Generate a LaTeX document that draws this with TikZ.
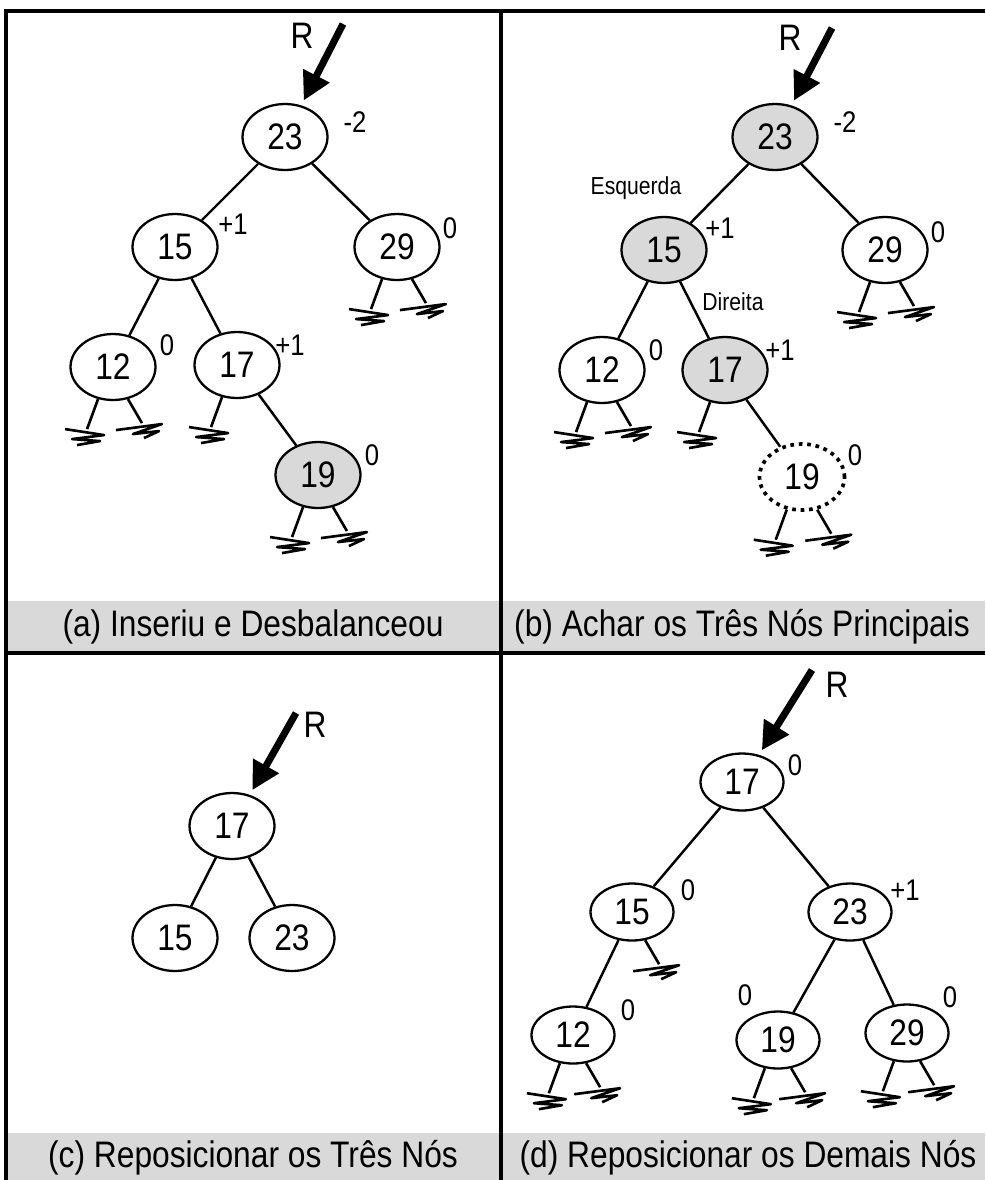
\documentclass[tikz,border=0pt]{standalone}
\usepackage{fontspec}
\usepackage{tikz}
\usepackage{xcolor}
\setmainfont{Liberation Sans}[FakeStretch=0.86]
\usetikzlibrary{shapes.geometric, arrows.meta}
\definecolor{cShade}{RGB}{217,217,217}
\tikzset{
	tnode/.style    ={ellipse, draw=black, line width=1.3pt, minimum width=1.70cm, minimum height=1.32cm, inner sep=0pt, fill=white, font=\fontsize{21}{23}\selectfont},
	tsmall/.style   ={tnode, minimum width=1.66cm, minimum height=1.14cm},
	hl/.style       ={fill=cShade},
	ins/.style      ={draw=black, line width=2.1pt, dash pattern=on 2.1pt off 2.7pt},
	bal/.style      ={inner sep=0pt, font=\fontsize{17}{19}\selectfont},
	side/.style     ={inner sep=0pt, font=\fontsize{14}{16}\selectfont},
	edge/.style     ={line width=1.4pt},
	nil/.style      ={line width=1.5pt, line join=round},
	rootarrow/.style={-{Triangle[length=0.56cm, width=0.56cm]}, line width=4pt, shorten >=3pt},
	rlabel/.style   ={inner sep=0pt, font=\fontsize{21}{23}\selectfont},
	capbar/.style   ={fill=cShade, draw=none},
	caption/.style  ={inner sep=0pt, font=\fontsize{21}{23}\selectfont},
	frame/.style    ={line width=1.8pt},
}
% null pointers under a node
\newcommand{\nilL}[1]{\draw[nil] (#1.245) -- ++(-11,30) +(-22,0) -- +(17,6) -- +(-15,10) -- +(13,12) -- +(-10,16);}
\newcommand{\nilR}[1]{\draw[nil] (#1.295) -- ++(14,24) +(-26,7) -- +(20,1) -- +(-9,11) -- +(17,8) -- +(2,15);}

\begin{document}
\begin{tikzpicture}[x=0.02cm, y=-0.02cm]
	\useasboundingbox (0,0) rectangle (985,1180);
	% caption bars and frame
	\fill[capbar] (6,601) rectangle (985,653);
	\fill[capbar] (6,1133) rectangle (985,1180);
	\draw[frame] (985,11) -- (6,11) -- (6,1180);
	\draw[frame] (501,11) -- (501,1180);
	\draw[frame] (6,653) -- (985,653);
	\node[caption] (capA) at (253,627) {(a) Inseriu e Desbalanceou};
	\node[caption] (capB) at (742,627) {(b) Achar os Três Nós Principais};
	\node[caption] (capC) at (253,1158) {(c) Reposicionar os Três Nós};
	\node[caption] (capD) at (748,1158) {(d) Reposicionar os Demais Nós};

	% (a)
	\node[tnode] (a23) at (285,137) {23};
	\node[tnode] (a15) at (175,247) {15};
	\node[tnode] (a29) at (397,247) {29};
	\node[tnode] (a12) at (113,367) {12};
	\node[tnode] (a17) at (237,365) {17};
	\node[tnode, hl] (a19) at (318,475) {19};
	\draw[edge] (a23) -- (a15);
	\draw[edge] (a23) -- (a29);
	\draw[edge] (a15) -- (a12);
	\draw[edge] (a15) -- (a17);
	\draw[edge] (a17) -- (a19);
	\nilL{a29} \nilR{a29}
	\nilL{a12} \nilR{a12}
	\nilL{a17}
	\nilL{a19} \nilR{a19}
	\node[bal] (la23) at (355,122) {-2};
	\node[bal] (la15) at (233,224) {+1};
	\node[bal] (la29) at (450,228) {0};
	\node[bal] (la12) at (167,345) {0};
	\node[bal] (la17) at (290,345) {+1};
	\node[bal] (la19) at (372,455) {0};
	\coordinate (ra) at (343,24);
	\draw[rootarrow] (ra) -- (a23);
	\node[rlabel] (Ra) at (302,36) {R};

	% (b)
	\node[tnode, hl] (b23) at (775,137) {23};
	\node[tnode, hl] (b15) at (664,250) {15};
	\node[tnode] (b29) at (885,250) {29};
	\node[tnode] (b12) at (602,370) {12};
	\node[tnode, hl] (b17) at (725,370) {17};
	\node[tnode, ins] (b19) at (802,477) {19};
	\draw[edge] (b23) -- (b15);
	\draw[edge] (b23) -- (b29);
	\draw[edge] (b15) -- (b12);
	\draw[edge] (b15) -- (b17);
	\draw[edge] (b17) -- (b19);
	\nilL{b29} \nilR{b29}
	\nilL{b12} \nilR{b12}
	\nilL{b17}
	\nilL{b19} \nilR{b19}
	\node[bal] (lb23) at (845,122) {-2};
	\node[bal] (lb15) at (720,228) {+1};
	\node[bal] (lb29) at (938,232) {0};
	\node[bal] (lb12) at (656,350) {0};
	\node[bal] (lb17) at (780,350) {+1};
	\node[bal] (lb19) at (855,455) {0};
	\node[side] (esq) at (636,188) {Esquerda};
	\node[side] (dir) at (733,302) {Direita};
	\coordinate (rb) at (832,28);
	\draw[rootarrow] (rb) -- (b23);
	\node[rlabel] (Rb) at (790,38) {R};

	% (c)
	\node[tnode] (c17) at (232,826) {17};
	\node[tnode] (c15) at (175,938) {15};
	\node[tnode] (c23) at (292,938) {23};
	\draw[edge] (c17) -- (c15);
	\draw[edge] (c17) -- (c23);
	\coordinate (rc) at (296,713);
	\draw[rootarrow] (rc) -- (c17);
	\node[rlabel] (Rc) at (315,725) {R};

	% (d)
	\node[tsmall] (d17) at (742,782) {17};
	\node[tsmall] (d15) at (632,912) {15};
	\node[tsmall] (d23) at (850,912) {23};
	\node[tsmall] (d12) at (573,1035) {12};
	\node[tsmall] (d19) at (778,1040) {19};
	\node[tsmall] (d29) at (907,1033) {29};
	\draw[edge] (d17) -- (d15);
	\draw[edge] (d17) -- (d23);
	\draw[edge] (d15) -- (d12);
	\draw[edge] (d23) -- (d19);
	\draw[edge] (d23) -- (d29);
	\nilR{d15}
	\nilL{d12} \nilR{d12}
	\nilL{d19} \nilR{d19}
	\nilL{d29} \nilR{d29}
	\node[bal] (ld17) at (795,765) {0};
	\node[bal] (ld15) at (688,890) {0};
	\node[bal] (ld23) at (905,890) {+1};
	\node[bal] (ld12) at (628,1010) {0};
	\node[bal] (ld19) at (745,995) {0};
	\node[bal] (ld29) at (950,997) {0};
	\coordinate (rd) at (812,670);
	\draw[rootarrow] (rd) -- (d17);
	\node[rlabel] (Rd) at (837,685) {R};
\end{tikzpicture}
\end{document}
